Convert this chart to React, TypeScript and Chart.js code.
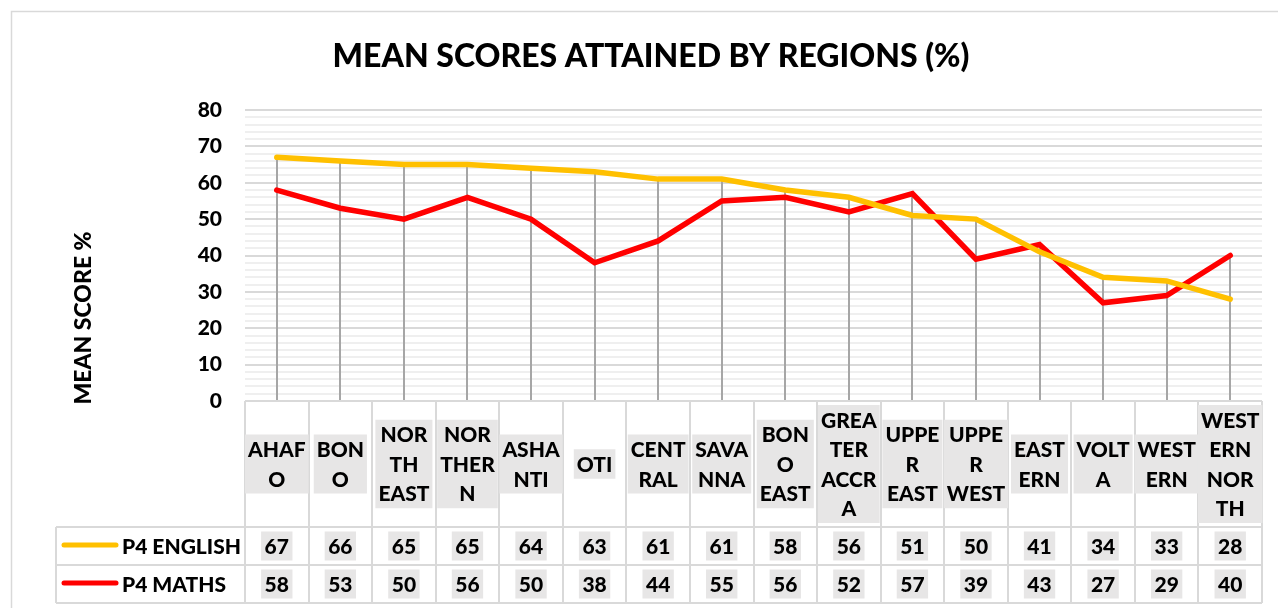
import React, { useEffect, useRef } from "react";
import { Chart, registerables } from "chart.js";

Chart.register(...registerables);

const TITLE = "MEAN SCORES ATTAINED BY REGIONS (%)";
const Y_TITLE = "MEAN SCORE %";

const regionLines: string[][] = [
  ["AHAF", "O"],
  ["BON", "O"],
  ["NOR", "TH", "EAST"],
  ["NOR", "THER", "N"],
  ["ASHA", "NTI"],
  ["OTI"],
  ["CENT", "RAL"],
  ["SAVA", "NNA"],
  ["BON", "O", "EAST"],
  ["GREA", "TER", "ACCR", "A"],
  ["UPPE", "R", "EAST"],
  ["UPPE", "R", "WEST"],
  ["EAST", "ERN"],
  ["VOLT", "A"],
  ["WEST", "ERN"],
  ["WEST", "ERN", "NOR", "TH"],
];

const seriesNames = ["P4 ENGLISH", "P4 MATHS"];
const seriesColors = ["#FFC000", "#FF0000"];
const englishScores = [67, 66, 65, 65, 64, 63, 61, 61, 58, 56, 51, 50, 41, 34, 33, 28];
const mathsScores = [58, 53, 50, 56, 50, 38, 44, 55, 56, 52, 57, 39, 43, 27, 29, 40];

const yMin = 0;
const yMax = 80;
const yMajor = 10;
const yMinor = 2;

const FONT = "Lato, 'Open Sans', sans-serif";
const WEIGHT = "900";
const GRID_MAJOR = "#D9D9D9";
const GRID_MINOR = "#EFEFEF";
const BORDER = "#D9D9D9";
const LABEL_BG = "#E7E6E6";

const W = 1278;
const H = 608;

const tablePlugin = {
  id: "tablePlugin",
  beforeDatasetsDraw(chart: any) {
    const ctx = chart.ctx;
    const xs = chart.scales.x;
    const ys = chart.scales.y;
    ctx.save();
    ctx.strokeStyle = "#A6A6A6";
    ctx.lineWidth = 2;
    for (let i = 0; i < regionLines.length; i++) {
      const x = Math.round(xs.getPixelForValue(i));
      const top = ys.getPixelForValue(Math.max(englishScores[i], mathsScores[i]));
      const bot = ys.getPixelForValue(0);
      ctx.beginPath();
      ctx.moveTo(x, top);
      ctx.lineTo(x, bot);
      ctx.stroke();
    }
    ctx.restore();
  },
  afterDraw(chart: any) {
    const ctx = chart.ctx;
    const area = chart.chartArea;
    const xs = chart.scales.x;
    const n = regionLines.length;
    const left = area.left;
    const right = area.right;
    const colW = (right - left) / n;
    const top = area.bottom;
    const r1 = 527;
    const r2 = 565;
    const r3 = 603;
    const legendLeft = 56;

    ctx.save();
    ctx.strokeStyle = BORDER;
    ctx.lineWidth = 1.5;
    ctx.strokeRect(11.5, 11.5, W + 20, H + 20);

    ctx.fillStyle = "#000";
    ctx.font = `${WEIGHT} 32px ${FONT}`;
    ctx.textAlign = "center";
    ctx.textBaseline = "middle";
    ctx.fillText(TITLE, 651, 57);

    ctx.save();
    ctx.translate(84, 318);
    ctx.rotate(-Math.PI / 2);
    ctx.font = `${WEIGHT} 23px ${FONT}`;
    ctx.fillText(Y_TITLE, 0, 0);
    ctx.restore();

    ctx.strokeStyle = BORDER;
    ctx.lineWidth = 2;
    ctx.beginPath();
    ctx.moveTo(left, top);
    ctx.lineTo(right, top);
    ctx.moveTo(legendLeft, r1);
    ctx.lineTo(right, r1);
    ctx.moveTo(legendLeft, r2);
    ctx.lineTo(right, r2);
    ctx.moveTo(legendLeft, r3);
    ctx.lineTo(right, r3);
    ctx.moveTo(legendLeft, r1);
    ctx.lineTo(legendLeft, r3);
    for (let i = 0; i <= n; i++) {
      const x = Math.round(left + i * colW);
      ctx.moveTo(x, top);
      ctx.lineTo(x, r3);
    }
    ctx.stroke();

    ctx.font = `${WEIGHT} 21px ${FONT}`;
    const lh = 29.5;
    const labelMid = (top + r1) / 2;
    for (let i = 0; i < n; i++) {
      const cx = xs.getPixelForValue(i);
      const lines = regionLines[i];
      let maxW = 0;
      for (const l of lines) maxW = Math.max(maxW, ctx.measureText(l).width);
      const bh = lines.length * lh;
      const by = labelMid - bh / 2;
      ctx.fillStyle = LABEL_BG;
      ctx.fillRect(cx - maxW / 2 - 3, by, maxW + 6, bh);
      ctx.fillStyle = "#000";
      lines.forEach((l, k) => {
        ctx.fillText(l, cx, by + lh * k + lh / 2 + 1);
      });
    }

    const rows = [englishScores, mathsScores];
    const rowMids = [(r1 + r2) / 2, (r2 + r3) / 2];
    rows.forEach((vals, ri) => {
      vals.forEach((v, i) => {
        const cx = xs.getPixelForValue(i);
        const s = String(v);
        const tw = ctx.measureText(s).width;
        ctx.fillStyle = LABEL_BG;
        ctx.fillRect(cx - tw / 2 - 3.5, rowMids[ri] - 14.5, tw + 7, 29);
        ctx.fillStyle = "#000";
        ctx.fillText(s, cx, rowMids[ri] + 1);
      });
      ctx.strokeStyle = seriesColors[ri];
      ctx.lineWidth = 5;
      ctx.lineCap = "round";
      ctx.beginPath();
      ctx.moveTo(64, rowMids[ri] - 1);
      ctx.lineTo(116, rowMids[ri] - 1);
      ctx.stroke();
      ctx.fillStyle = "#000";
      ctx.textAlign = "left";
      ctx.fillText(seriesNames[ri], 122, rowMids[ri] + 1);
      ctx.textAlign = "center";
    });
    ctx.restore();
  },
};

export default function App() {
  const ref = useRef<HTMLCanvasElement>(null);
  useEffect(() => {
    if (!ref.current) return;
    const chart = new Chart(ref.current, {
      type: "line",
      data: {
        labels: regionLines.map((l) => l.join(" ")),
        datasets: [
          {
            label: seriesNames[0],
            data: englishScores,
            borderColor: seriesColors[0],
            backgroundColor: seriesColors[0],
            borderWidth: 5.5,
            pointRadius: 0,
            tension: 0,
            borderCapStyle: "round",
          },
          {
            label: seriesNames[1],
            data: mathsScores,
            borderColor: seriesColors[1],
            backgroundColor: seriesColors[1],
            borderWidth: 5.5,
            pointRadius: 0,
            tension: 0,
            borderCapStyle: "round",
          },
        ],
      },
      options: {
        responsive: false,
        animation: false,
        devicePixelRatio: 1,
        layout: { padding: { left: 0, top: 110, right: 16, bottom: H - 401 } },
        plugins: {
          legend: { display: false },
          title: { display: false },
          tooltip: { enabled: false },
        },
        scales: {
          x: {
            display: false,
            offset: true,
            grid: { display: false },
          },
          y: {
            min: yMin,
            max: yMax,
            afterFit: (s: any) => {
              s.width = 245;
            },
            border: { display: false },
            grid: {
              drawTicks: false,
              lineWidth: 2,
              color: (c: any) =>
                c.tick && c.tick.value % yMajor === 0 ? GRID_MAJOR : GRID_MINOR,
            },
            ticks: {
              stepSize: yMinor,
              autoSkip: false,
              padding: 23,
              color: "#000",
              font: { family: FONT, size: 21, weight: WEIGHT },
              callback: (v: any) => (Number(v) % yMajor === 0 ? String(v) : ""),
            },
          },
        },
      },
      plugins: [tablePlugin],
    });
    return () => chart.destroy();
  }, []);
  return (
    <div style={{ position: "fixed", left: 0, top: 0, width: W, height: H, background: "#fff" }}>
      <canvas ref={ref} width={W} height={H} style={{ width: W, height: H, display: "block" }} />
    </div>
  );
}
